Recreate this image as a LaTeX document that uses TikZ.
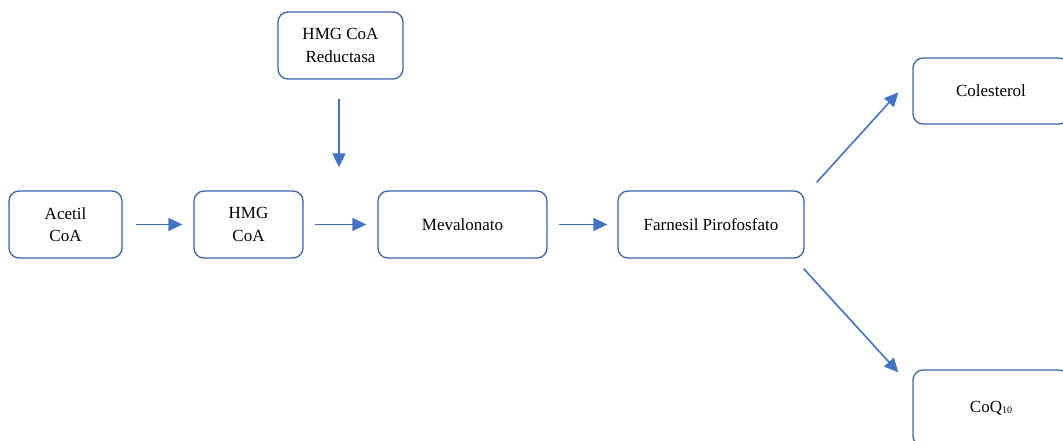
\documentclass[tikz,border=0pt]{standalone}
\usepackage{fontspec}
\setmainfont{Liberation Serif}
\usetikzlibrary{arrows.meta,calc}
\definecolor{boxblue}{HTML}{3A64AA}
\definecolor{arrblue}{HTML}{4472C4}
\begin{document}
\begin{tikzpicture}[x=1pt,y=-1pt,
  box/.style={draw=boxblue,line width=1.3pt,rounded corners=10pt,minimum height=67pt,
    align=center,inner sep=0pt,font=\fontsize{17}{22.5}\selectfont},
  arr/.style={draw=arrblue,line width=1.6pt,-{Triangle[length=14pt,width=13pt]}}]
\useasboundingbox (0,0) rectangle (1063,441);
\clip (0,0) rectangle (1063,441);
\fill[white] (0,0) rectangle (1063,441);
\node[box,minimum width=113pt] (acetil) at (65.5,224.5) {Acetil\\CoA};
\node[box,minimum width=109pt] (hmg) at (248.5,224.5) {HMG\\CoA};
\node[box,minimum width=125pt] (red) at (340.5,45.5) {HMG CoA\\Reductasa};
\node[box,minimum width=169pt] (mev) at (462.5,224.5) {Mevalonato};
\node[box,minimum width=186pt] (far) at (711,224.5) {Farnesil Pirofosfato};
\node[box,minimum width=156pt,minimum height=66pt] (col) at (991,91) {Colesterol};
\node[box,minimum width=156pt,minimum height=76pt] (coq) at (991,408) {CoQ{\fontsize{10}{10}\selectfont\raisebox{-1.5pt}{10}}};
\draw[arr,shorten <=13pt,shorten >=11pt] (acetil) -- (hmg);
\draw[arr,shorten <=11pt,shorten >=11pt] (hmg) -- (mev);
\draw[arr,shorten <=11pt,shorten >=10pt] (mev) -- (far);
\draw[arr,shorten <=19pt,shorten >=23pt] ([xshift=-1.5pt]red.south) -- ([xshift=-1.5pt]red.south |- mev.north);
\coordinate (a1s) at ([shift={(12,-8)}]far.north east);
\coordinate (a1e) at ([shift={(-14,35)}]col.north west);
\coordinate (a2s) at ([shift={(-1,10)}]far.south east);
\coordinate (a2e) at ([shift={(-14,3)}]coq.north west);
\draw[arr] (a1s) -- (a1e);
\draw[arr] (a2s) -- (a2e);
\end{tikzpicture}
\end{document}
